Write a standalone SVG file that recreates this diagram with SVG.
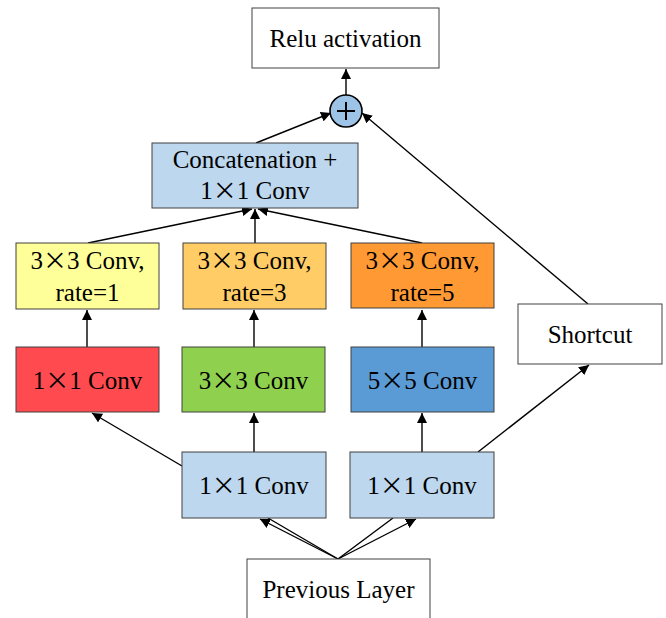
<svg xmlns="http://www.w3.org/2000/svg" width="666" height="618" viewBox="0 0 666 618">
<defs>
<marker id="ah" viewBox="0 0 10 10" refX="10" refY="5" markerWidth="10" markerHeight="10" markerUnits="userSpaceOnUse" orient="auto">
<path d="M0,0 L10,5 L0,10 z" fill="#000"/>
</marker>
</defs>
<style>
.box{stroke:#404040;stroke-width:1}
.t{font-family:"Liberation Serif","Times New Roman",serif;font-size:25px;fill:#000;text-anchor:middle}
.x{font-family:"Noto Sans CJK SC","Liberation Serif",serif;font-size:24px}
.c{stroke:#000;stroke-width:1.4;fill:none}
.a{marker-end:url(#ah)}
</style>
<rect width="666" height="618" fill="#fff"/>
<g id="connectors">
<line class="c a" x1="346" y1="95" x2="346" y2="69"/>
<line class="c a" x1="256" y1="143" x2="331" y2="113"/>
<line class="c a" x1="588" y1="304" x2="362" y2="113"/>
<line class="c a" x1="88" y1="243" x2="252" y2="209"/>
<line class="c a" x1="255" y1="243" x2="255" y2="209"/>
<line class="c a" x1="422" y1="243" x2="258" y2="209"/>
<line class="c a" x1="87" y1="347" x2="87" y2="310"/>
<line class="c a" x1="254" y1="347" x2="254" y2="310"/>
<line class="c a" x1="422" y1="347" x2="422" y2="310"/>
<line class="c a" x1="182" y1="466" x2="92" y2="413"/>
<line class="c a" x1="254" y1="452" x2="254" y2="413"/>
<line class="c a" x1="422" y1="452" x2="422" y2="413"/>
<line class="c a" x1="478" y1="452" x2="589" y2="365"/>
<line class="c a" x1="338" y1="559" x2="260" y2="519"/>
<line class="c" x1="338" y1="559" x2="268" y2="518"/>
<line class="c" x1="338" y1="559" x2="393" y2="518"/>
<line class="c a" x1="338" y1="559" x2="416" y2="519"/>
</g>
<g id="relu"><rect class="box" x="252" y="8" width="187" height="60" fill="#fff"/><text class="t" x="345.5" y="47">Relu activation</text></g>
<g id="plus"><circle cx="346" cy="111" r="16" fill="#9DC3E6" stroke="#000" stroke-width="1.6"/><path d="M337,111 H355 M346,102 V120" stroke="#000" stroke-width="2"/></g>
<g id="concat"><rect class="box" x="152" y="143" width="206" height="65" fill="#BDD7EE"/><text class="t" x="255" y="168">Concatenation +</text><text class="t" x="255" y="199">1<tspan class="x">×</tspan>1 Conv</text></g>
<g id="rate1"><rect class="box" x="16" y="243" width="143" height="66" fill="#FFFF99"/><text class="t" x="87.5" y="269">3<tspan class="x">×</tspan>3 Conv,</text><text class="t" x="87.5" y="301">rate=1</text></g>
<g id="rate3"><rect class="box" x="183" y="243" width="143" height="66" fill="#FFCC66"/><text class="t" x="254.5" y="269">3<tspan class="x">×</tspan>3 Conv,</text><text class="t" x="254.5" y="301">rate=3</text></g>
<g id="rate5"><rect class="box" x="351" y="243" width="143" height="65" fill="#FF9933"/><text class="t" x="422.5" y="269">3<tspan class="x">×</tspan>3 Conv,</text><text class="t" x="422.5" y="301">rate=5</text></g>
<g id="conv1red"><rect class="box" x="16" y="347" width="143" height="65" fill="#FF4B4F"/><text class="t" x="87.5" y="389">1<tspan class="x">×</tspan>1 Conv</text></g>
<g id="conv3green"><rect class="box" x="182" y="347" width="143" height="65" fill="#8FD14F"/><text class="t" x="253.5" y="389">3<tspan class="x">×</tspan>3 Conv</text></g>
<g id="conv5blue"><rect class="box" x="351" y="347" width="143" height="65" fill="#5B9BD5"/><text class="t" x="422.5" y="389">5<tspan class="x">×</tspan>5 Conv</text></g>
<g id="shortcut"><rect class="box" x="518" y="304" width="144" height="60" fill="#fff"/><text class="t" x="590" y="343">Shortcut</text></g>
<g id="conv1a"><rect class="box" x="182" y="452" width="144" height="66" fill="#BDD7EE"/><text class="t" x="254" y="494">1<tspan class="x">×</tspan>1 Conv</text></g>
<g id="conv1b"><rect class="box" x="350" y="452" width="144" height="66" fill="#BDD7EE"/><text class="t" x="422" y="494">1<tspan class="x">×</tspan>1 Conv</text></g>
<g id="prev"><rect class="box" x="247" y="559" width="183" height="62" fill="#fff"/><text class="t" x="338.5" y="598">Previous Layer</text></g>
</svg>
